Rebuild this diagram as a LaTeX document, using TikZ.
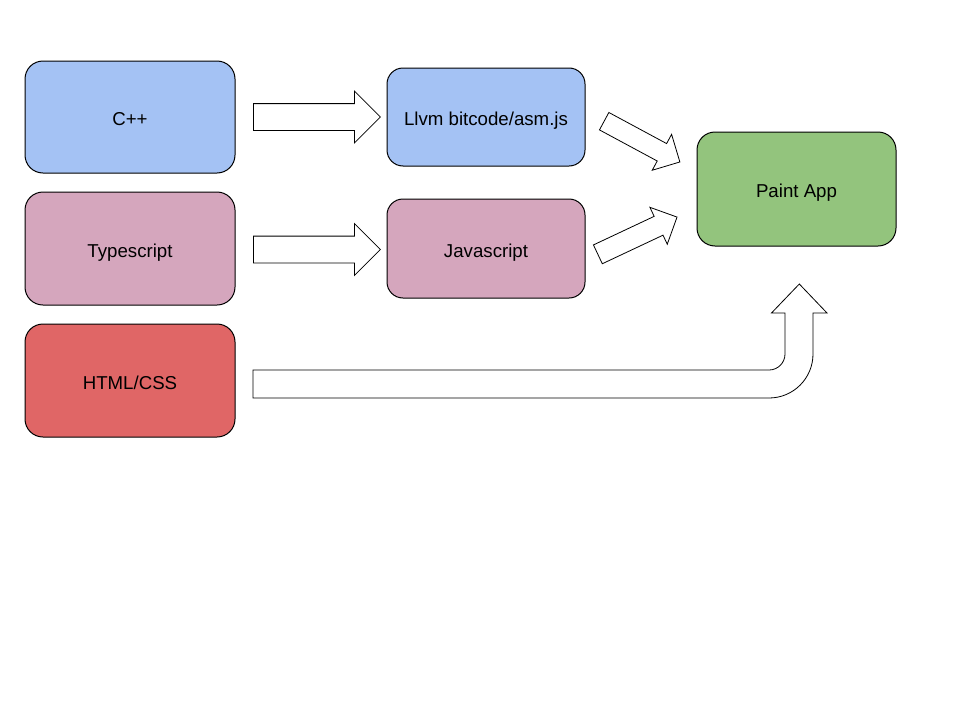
\documentclass[tikz,border=0pt]{standalone}
\usepackage{fontspec}
\setmainfont{Liberation Sans}
\usetikzlibrary{shapes.arrows}
\definecolor{bluebox}{HTML}{A4C2F4}
\definecolor{pinkbox}{HTML}{D5A6BD}
\definecolor{redbox}{HTML}{E06666}
\definecolor{greenbox}{HTML}{93C47D}

\begin{document}
\begin{tikzpicture}[x=1pt,y=-1pt,line width=1pt,
		font=\fontsize{18.67}{22}\selectfont,
		box/.style={draw, rounded corners=18pt, inner sep=0pt, text height=17.4pt, text depth=0pt},
		fatarrow/.style={draw, fill=white, single arrow, single arrow head extend=#1, inner xsep=0pt, anchor=tail, line width=0.8pt}]
		\useasboundingbox (0,0) rectangle (960,720);
		
		% Boxes
		\node[box, fill=bluebox, minimum width=210pt, minimum height=112pt] (cpp) at (130,117) {C++};
		\node[box, fill=pinkbox, minimum width=210pt, minimum height=113pt] (ts) at (130,248.5) {Typescript};
		\node[box, fill=redbox, minimum width=210pt, minimum height=113pt] (html) at (130,380.5) {HTML/CSS};
		\node[box, fill=bluebox, rounded corners=16pt, minimum width=198pt, minimum height=98pt] (llvm) at (486,117) {Llvm bitcode/asm.js};
		\node[box, fill=pinkbox, rounded corners=16pt, minimum width=198pt, minimum height=99pt] (js) at (486,248.5) {Javascript};
		\node[box, fill=greenbox, minimum width=199pt, minimum height=114pt] (app) at (796.5,189) {Paint App};
		
		% Fat arrows
		\node[fatarrow=12.5pt, inner ysep=13pt, minimum height=127pt] (cpp2llvm) at (253,117) {};
		\node[fatarrow=12.5pt, inner ysep=13pt, minimum height=127pt] (ts2js) at (253,249.5) {};
		\node[fatarrow=10.5pt, inner ysep=9.5pt, minimum height=86pt, rotate=-28.3] (llvm2app) at (603.8,121) {};
		\node[fatarrow=10pt, inner ysep=10pt, minimum height=87.5pt, rotate=25.2] (js2app) at (597.5,254.5) {};
		
		% Bent arrow
		\draw[fill=white, line width=0.8pt] (253,370) -- (769,370) arc[start angle=90, end angle=0, radius=16]
			-- (785,313) -- (771.5,313) -- (799.3,284) -- (827,313) -- (813,313) -- (813,354)
			arc[start angle=0, end angle=90, radius=44] -- (253,398) -- cycle;
		
	\end{tikzpicture}
\end{document}
